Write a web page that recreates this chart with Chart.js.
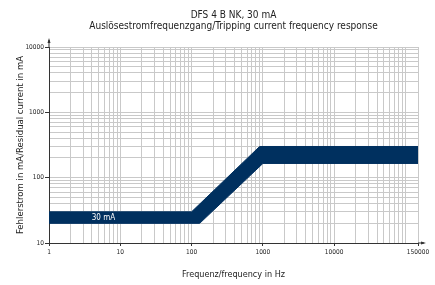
<!DOCTYPE html>
<html>
<head>
<meta charset="utf-8">
<script src="https://cdn.jsdelivr.net/npm/chart.js@4.4.0/dist/chart.umd.min.js"></script>
<style>
    html, body { margin: 0; padding: 0; background: #fff; }
    #wrap { width: 435px; height: 285px; }
</style>
</head>
<body>
<div id="wrap"><canvas id="freqChart"></canvas></div>
<script>
// ========== DATA ==========
const titleLines = ["DFS 4 B NK, 30 mA", "Auslösestromfrequenzgang/Tripping current frequency response"];
const xTitle = "Frequenz/frequency in Hz";
const yTitle = "Fehlerstrom in mA/Residual current in mA";

// Band edges: frequency in Hz, current in mA
const upperFreq = [1, 100, 900, 150000];
const upperCurrent = [30, 30, 300, 300];
const lowerFreq = [1, 130, 1000, 150000];
const lowerCurrent = [20, 20, 165, 165];

// Tick labels and grid decades
const xLabels = [1, 10, 100, 1000, 10000, 150000];
const yLabels = [10, 100, 1000, 10000];
const xDecades = [1, 10, 100, 1000, 10000, 100000];
const yDecades = [10, 100, 1000];
const xMax = 150000;
const yMax = 10000;

// Band annotation
const bandLabel = "30 mA";
const bandLabelFreq = 5.8;
const bandLabelCurrent = 24.5;

// ========== STYLE ==========
const navy = "#00305f";
const gridColor = "#c9c9c9";
const axisColor = "#333";
const font = "'Liberation Sans Narrow', 'DejaVu Sans Condensed', sans-serif";

// Log grid lines: 1..9 per decade, then the top bound
const steps = [1, 2, 3, 4, 5, 6, 7, 8, 9];
const xGrid = xDecades.flatMap(d => steps.map(k => k * d)).filter(v => v < xMax).concat([xMax]);
const yGrid = yDecades.flatMap(d => steps.map(k => k * d)).concat([yMax]);

const toPoints = (xs, ys) => xs.map((x, i) => ({ x: x, y: ys[i] }));

// ========== EXTRAS: arrows + band label ==========
const extras = {
    id: "extras",
    afterDatasetsDraw(chart) {
        const { ctx, scales } = chart;
        ctx.save();
        ctx.fillStyle = "#fff";
        ctx.font = "8px " + font;
        ctx.textAlign = "center";
        ctx.textBaseline = "middle";
        ctx.fillText(bandLabel, scales.x.getPixelForValue(bandLabelFreq), scales.y.getPixelForValue(bandLabelCurrent));
        ctx.restore();
    },
    afterDraw(chart) {
        const { ctx, chartArea } = chart;
        const { left, top, right, bottom } = chartArea;
        ctx.save();
        ctx.strokeStyle = axisColor;
        ctx.fillStyle = axisColor;
        ctx.lineWidth = 1;
        // y axis arrow
        ctx.beginPath();
        ctx.moveTo(left, top);
        ctx.lineTo(left, top - 7);
        ctx.stroke();
        ctx.beginPath();
        ctx.moveTo(left, top - 9);
        ctx.lineTo(left - 1.5, top - 4);
        ctx.lineTo(left + 1.5, top - 4);
        ctx.closePath();
        ctx.fill();
        // x axis arrow
        ctx.beginPath();
        ctx.moveTo(right, bottom);
        ctx.lineTo(right + 6, bottom);
        ctx.stroke();
        ctx.beginPath();
        ctx.moveTo(right + 8, bottom);
        ctx.lineTo(right + 3, bottom - 1.5);
        ctx.lineTo(right + 3, bottom + 1.5);
        ctx.closePath();
        ctx.fill();
        ctx.restore();
    }
};

// ========== CHART ==========
const ctx = document.getElementById("freqChart").getContext("2d");

new Chart(ctx, {
    type: "line",
    data: {
        datasets: [
            {
                label: "upper",
                data: toPoints(upperFreq, upperCurrent),
                borderColor: navy,
                borderWidth: 1,
                pointRadius: 0,
                fill: false,
                tension: 0
            },
            {
                label: "lower",
                data: toPoints(lowerFreq, lowerCurrent),
                borderColor: navy,
                backgroundColor: navy,
                borderWidth: 1,
                pointRadius: 0,
                fill: "-1",
                tension: 0
            }
        ]
    },
    options: {
        responsive: true,
        maintainAspectRatio: false,
        animation: false,
        layout: {
            padding: { top: 0, left: 0, right: 17, bottom: 0 }
        },
        plugins: {
            legend: { display: false },
            tooltip: { enabled: false },
            title: {
                display: true,
                fullSize: false,
                text: titleLines,
                color: "#222",
                font: { family: font, size: 10, weight: "normal", lineHeight: 1.1 },
                padding: { top: 10, bottom: 15 }
            }
        },
        scales: {
            x: {
                type: "logarithmic",
                min: 1,
                max: xMax,
                afterBuildTicks: scale => {
                    scale.ticks = xGrid.map(v => ({ value: v }));
                },
                afterFit: scale => {
                    scale.height = 42;
                },
                ticks: {
                    autoSkip: false,
                    maxRotation: 0,
                    padding: 2,
                    color: "#222",
                    font: { family: font, size: 6.5 },
                    callback: value => (xLabels.includes(value) ? String(value) : "")
                },
                grid: {
                    color: gridColor,
                    lineWidth: 1,
                    tickLength: 3,
                    tickColor: c => (xLabels.includes(c.tick.value) ? axisColor : "rgba(0,0,0,0)")
                },
                border: { display: true, color: axisColor, width: 1 },
                title: {
                    display: true,
                    text: xTitle,
                    color: "#222",
                    font: { family: font, size: 9 },
                    padding: { top: 0, bottom: 4.5 }
                }
            },
            y: {
                type: "logarithmic",
                min: 10,
                max: yMax,
                afterBuildTicks: scale => {
                    scale.ticks = yGrid.map(v => ({ value: v }));
                },
                afterFit: scale => {
                    scale.width = 49;
                },
                ticks: {
                    autoSkip: false,
                    padding: 1,
                    color: "#222",
                    font: { family: font, size: 6.5 },
                    callback: value => (yLabels.includes(value) ? String(value) : "")
                },
                grid: {
                    color: gridColor,
                    lineWidth: 1,
                    tickLength: 4,
                    tickColor: c => (yLabels.includes(c.tick.value) ? axisColor : "rgba(0,0,0,0)")
                },
                border: { display: true, color: axisColor, width: 1 },
                title: {
                    display: true,
                    text: yTitle,
                    color: "#222",
                    font: { family: font, size: 9.5 },
                    padding: { top: 15, bottom: 0 }
                }
            }
        }
    },
    plugins: [extras]
});
</script>
</body>
</html>
